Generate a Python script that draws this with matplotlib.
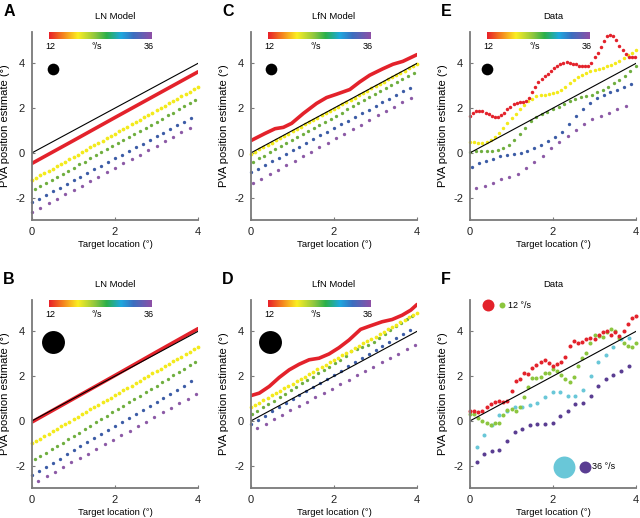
import numpy as np
import matplotlib
matplotlib.use("Agg")
import matplotlib.pyplot as plt
from matplotlib.colors import LinearSegmentedColormap

plt.rcParams['font.family'] = ['Liberation Sans', 'DejaVu Sans']
plt.rcParams['axes.unicode_minus'] = False


def grid(x0, step, n):
    # sample positions along the target axis
    return x0 + step * np.arange(n)


# ---------------- data ----------------
ident_x = [0, 4]
ident_y = [0, 4]

# A : LN model, small stimulus
a_red_x = [0, 1, 2, 3, 4]
a_red_y = [-0.47, 0.55, 1.58, 2.60, 3.62]
a_yel = [-1.22, -1.12, -1.01, -0.91, -0.80, -0.70, -0.60, -0.49, -0.39, -0.28,
         -0.18, -0.08, 0.03, 0.13, 0.24, 0.34, 0.44, 0.55, 0.65, 0.76,
         0.86, 0.96, 1.07, 1.17, 1.28, 1.38, 1.48, 1.59, 1.69, 1.80,
         1.90, 2.00, 2.11, 2.21, 2.32, 2.42, 2.52, 2.63, 2.73, 2.84, 2.94]
a_grn = [-1.62, -1.48, -1.35, -1.21, -1.07, -0.94, -0.80, -0.66, -0.52, -0.39,
         -0.25, -0.11, 0.02, 0.16, 0.30, 0.43, 0.57, 0.71, 0.85, 0.98,
         1.12, 1.26, 1.39, 1.53, 1.67, 1.80, 1.94, 2.08, 2.22, 2.35]
a_blu = [-2.20, -2.04, -1.87, -1.71, -1.55, -1.38, -1.22, -1.06, -0.89, -0.73,
         -0.57, -0.40, -0.24, -0.08, 0.09, 0.25, 0.41, 0.58, 0.74, 0.90,
         1.07, 1.23, 1.39, 1.56]
a_pur = [-2.65, -2.45, -2.25, -2.06, -1.86, -1.66, -1.46, -1.26, -1.07, -0.87,
         -0.67, -0.47, -0.27, -0.08, 0.12, 0.32, 0.52, 0.72, 0.91, 1.11]

# B : LN model, large stimulus
b_red_x = [0, 1, 2, 3, 4]
b_red_y = [-0.05, 0.99, 2.03, 3.08, 4.12]
b_yel = [-1.00, -0.89, -0.79, -0.68, -0.57, -0.46, -0.36, -0.25, -0.14, -0.03,
         0.08, 0.18, 0.29, 0.40, 0.51, 0.61, 0.72, 0.83, 0.94, 1.04,
         1.15, 1.26, 1.37, 1.47, 1.58, 1.69, 1.80, 1.90, 2.01, 2.12,
         2.23, 2.33, 2.44, 2.55, 2.66, 2.76, 2.87, 2.98, 3.09, 3.19, 3.30]
b_grn = [-1.72, -1.57, -1.42, -1.27, -1.12, -0.97, -0.82, -0.67, -0.52, -0.37,
         -0.22, -0.07, 0.08, 0.23, 0.38, 0.53, 0.68, 0.83, 0.98, 1.13,
         1.28, 1.43, 1.58, 1.73, 1.88, 2.03, 2.18, 2.33, 2.48, 2.63]
b_blu = [-2.41, -2.23, -2.05, -1.87, -1.69, -1.50, -1.32, -1.14, -0.96, -0.78,
         -0.60, -0.42, -0.24, -0.05, 0.13, 0.31, 0.49, 0.67, 0.85, 1.03,
         1.21, 1.39, 1.58, 1.76]
b_pur = [-2.68, -2.48, -2.27, -2.07, -1.86, -1.66, -1.46, -1.25, -1.05, -0.84,
         -0.64, -0.44, -0.23, -0.03, 0.18, 0.38, 0.58, 0.79, 0.99, 1.20]

# C : LfN model, small stimulus
c_red_x = [0, 0.34, 0.58, 0.78, 0.98, 1.26, 1.58, 1.82, 2.06, 2.38, 2.62, 2.86,
           3.18, 3.42, 3.66, 4.0]
c_red_y = [0.55, 0.87, 1.08, 1.14, 1.32, 1.76, 2.21, 2.47, 2.62, 2.83, 3.17, 3.47,
           3.76, 3.96, 4.09, 4.39]
c_yel = [-0.04, 0.06, 0.16, 0.26, 0.36, 0.46, 0.56, 0.66, 0.76, 0.86,
         0.97, 1.07, 1.17, 1.27, 1.37, 1.47, 1.57, 1.67, 1.77, 1.87,
         1.97, 2.07, 2.17, 2.27, 2.37, 2.47, 2.57, 2.68, 2.78, 2.88,
         2.98, 3.08, 3.18, 3.28, 3.38, 3.48, 3.58, 3.68, 3.78, 3.88, 3.98]
c_grn = [-0.39, -0.25, -0.12, 0.02, 0.16, 0.29, 0.43, 0.57, 0.71, 0.84,
         0.98, 1.12, 1.25, 1.39, 1.53, 1.66, 1.80, 1.94, 2.08, 2.21,
         2.35, 2.49, 2.62, 2.76, 2.90, 3.03, 3.17, 3.31, 3.45, 3.58]
c_blu = [-0.87, -0.71, -0.54, -0.38, -0.21, -0.05, 0.12, 0.28, 0.45, 0.61,
         0.78, 0.94, 1.10, 1.27, 1.43, 1.60, 1.76, 1.93, 2.09, 2.26,
         2.42, 2.59, 2.75, 2.91]
c_pur = [-1.35, -1.15, -0.95, -0.75, -0.55, -0.35, -0.14, 0.06, 0.26, 0.46,
         0.66, 0.86, 1.06, 1.26, 1.46, 1.67, 1.87, 2.07, 2.27, 2.47]

# D : LfN model, large stimulus
d_red_x = [0, 0.2, 0.44, 0.68, 0.92, 1.16, 1.4, 1.64, 1.88, 2.12, 2.36, 2.64,
           2.88, 3.16, 3.4, 3.64, 3.85, 4.0]
d_red_y = [1.13, 1.24, 1.54, 1.94, 2.28, 2.53, 2.73, 2.80, 2.99, 3.27, 3.61, 4.09,
           4.25, 4.43, 4.53, 4.72, 4.95, 5.20]
d_yel = [0.61, 0.72, 0.82, 0.93, 1.03, 1.14, 1.24, 1.35, 1.45, 1.56,
         1.66, 1.77, 1.88, 1.98, 2.09, 2.19, 2.30, 2.40, 2.51, 2.61,
         2.72, 2.82, 2.93, 3.04, 3.14, 3.25, 3.35, 3.46, 3.56, 3.67,
         3.77, 3.88, 3.98, 4.09, 4.20, 4.30, 4.41, 4.51, 4.62, 4.72, 4.83]
d_grn = [0.31, 0.46, 0.61, 0.76, 0.91, 1.07, 1.22, 1.37, 1.52, 1.67,
         1.82, 1.97, 2.12, 2.27, 2.42, 2.57, 2.72, 2.88, 3.10, 3.22,
         3.30, 3.38, 3.52, 3.70, 3.90, 4.08, 4.23, 4.38, 4.54, 4.69]
d_blu = [-0.13, 0.05, 0.24, 0.42, 0.60, 0.78, 0.97, 1.15, 1.33, 1.52,
         1.70, 1.88, 2.07, 2.25, 2.43, 2.62, 2.80, 2.98, 3.16, 3.35,
         3.53, 3.71, 3.90, 4.08]
d_pur = [-0.31, -0.12, 0.08, 0.27, 0.47, 0.66, 0.86, 1.05, 1.25, 1.44,
         1.64, 1.83, 2.03, 2.22, 2.42, 2.61, 2.81, 3.00, 3.20, 3.39]

# E : data, five speeds
e_red = [1.65, 1.78, 1.87, 1.88, 1.85, 1.79, 1.72, 1.66, 1.62, 1.61,
         1.67, 1.78, 1.94, 2.06, 2.18, 2.25, 2.26, 2.27, 2.32, 2.45,
         2.70, 2.95, 3.16, 3.28, 3.42, 3.54, 3.65, 3.78, 3.90, 3.98,
         4.03, 4.04, 4.02, 3.99, 3.95, 3.90, 3.86, 3.86, 3.90, 4.02,
         4.28, 4.45, 4.75, 5.00, 5.22, 5.27, 5.22, 5.05, 4.78, 4.58,
         4.40, 4.30, 4.27, 4.27]
e_yel = [0.50, 0.47, 0.45, 0.46, 0.50, 0.58, 0.72, 0.90, 1.12, 1.33,
         1.54, 1.75, 1.95, 2.15, 2.30, 2.42, 2.52, 2.57, 2.60, 2.62,
         2.66, 2.72, 2.82, 2.95, 3.10, 3.25, 3.38, 3.50, 3.58, 3.64,
         3.70, 3.75, 3.80, 3.86, 3.92, 4.00, 4.10, 4.22, 4.36, 4.48, 4.58]
e_grn = [0.06, 0.08, 0.08, 0.08, 0.10, 0.13, 0.20, 0.36, 0.58, 0.85,
         1.12, 1.42, 1.60, 1.72, 1.82, 1.95, 2.05, 2.20, 2.32, 2.42,
         2.48, 2.53, 2.60, 2.70, 2.80, 2.95, 3.10, 3.25, 3.45, 3.68, 3.90]
e_blu = [-0.61, -0.46, -0.35, -0.26, -0.16, -0.09, -0.04, -0.01, 0.07, 0.22,
         0.37, 0.52, 0.70, 0.95, 1.30, 1.65, 1.98, 2.25, 2.45, 2.58,
         2.70, 2.82, 2.93, 3.08]
e_pur = [-1.57, -1.46, -1.33, -1.18, -1.06, -0.95, -0.67, -0.42, -0.12, 0.20,
         0.50, 0.76, 1.02, 1.28, 1.50, 1.66, 1.80, 1.94, 2.08]

# F : data, small/large stimulus at 12 and 36 deg/s
f_red = [0.42, 0.42, 0.40, 0.42, 0.62, 0.75, 0.85, 0.90, 0.85, 0.87,
         1.35, 1.78, 1.85, 2.12, 2.08, 2.35, 2.50, 2.65, 2.70, 2.60,
         2.45, 2.55, 2.62, 2.85, 3.35, 3.55, 3.50, 3.52, 3.65, 3.70,
         3.65, 3.85, 3.95, 4.00, 3.85, 3.95, 3.80, 4.00, 4.35, 4.60, 4.70]
f_grn = [0.30, 0.30, 0.15, 0.00, -0.10, -0.20, -0.10, -0.10, 0.25, 0.48,
         0.52, 0.45, 0.62, 1.05, 1.50, 1.90, 1.92, 1.95, 2.15, 2.15,
         2.30, 2.25, 2.05, 1.85, 1.75, 1.95, 2.45, 2.80, 3.05, 3.50,
         3.85, 3.80, 3.75, 3.95, 4.10, 4.00, 3.70, 3.50, 3.35, 3.30, 3.50]
f_cyn = [-1.15, -0.65, -0.20, 0.25, 0.45, 0.60, 0.62, 0.70, 0.80, 1.05,
         1.30, 1.28, 1.12, 1.12, 1.40, 2.00, 2.65, 2.95, 3.30, 3.65, 3.70]
f_pur = [-1.85, -1.50, -1.35, -1.28, -0.90, -0.50, -0.35, -0.20, -0.15, -0.15,
         -0.10, 0.20, 0.45, 0.75, 0.80, 1.10, 1.55, 1.85, 2.05, 2.25, 2.45]

# ---------------- style ----------------
RED = '#e3222b'
YEL = '#f3ea1b'
GRN = '#6fae3f'
BLU = '#3c5ca6'
PUR = '#8c5aa6'
F_GRN = '#8cc63f'
F_CYN = '#69c7d8'
F_PUR = '#5a3d92'
AXC = '#7a7a7a'

speed_cmap = LinearSegmentedColormap.from_list(
    'speed', [(0.0, '#e8202a'), (0.14, '#f5861f'), (0.28, '#fbee23'),
              (0.45, '#8cc63f'), (0.56, '#2bb04a'), (0.70, '#1ea8df'),
              (0.82, '#3b6fc0'), (1.0, '#8e4fa6')])

fig = plt.figure(figsize=(6.4, 5.18), dpi=100)

W = 0.2594
H = 0.3629
col_left = [0.05, 0.3922, 0.7344]
row_bottom = [0.5753, 0.0579]


def make_axes(col, row, title, letter):
    ax = fig.add_axes([col_left[col], row_bottom[row], W, H])
    ax.set_xlim(0, 4)
    ax.set_ylim(-3, 5.4)
    ax.set_xticks([0, 2, 4])
    ax.set_yticks([-2, 0, 2, 4])
    for s in ('top', 'right'):
        ax.spines[s].set_visible(False)
    for s in ('left', 'bottom'):
        ax.spines[s].set_color(AXC)
        ax.spines[s].set_linewidth(1.3)
    ax.tick_params(direction='in', length=2, width=0.8, color=AXC,
                   labelsize=8, pad=5, labelcolor='#222222')
    ax.set_xlabel('Target location (°)', fontsize=6.8)
    ax.set_ylabel('PVA position estimate (°)', fontsize=8)
    ax.xaxis.set_label_coords(0.5, -0.105)
    ax.yaxis.set_label_coords(-0.13, 0.5)
    ax.text(0.5, 1.08, title, transform=ax.transAxes, ha='center',
            va='center', fontsize=6.8)
    fx = col_left[col] - 0.045
    fy = row_bottom[row] + H + 0.04
    fig.text(fx, fy, letter, fontsize=11.5, fontweight='bold', ha='left',
             va='center')
    return ax


def speed_bar(ax):
    cax = ax.inset_axes([0.1, 0.962, 0.615, 0.036])
    cax.imshow(np.linspace(0, 1, 256)[None, :], aspect='auto', cmap=speed_cmap)
    cax.set_axis_off()
    for xx, t in ((0.108, '12'), (0.39, '°/s'), (0.705, '36')):
        ax.text(xx, 0.925, t, transform=ax.transAxes, ha='center',
                va='center', fontsize=6.5)


def dots(ax, x, y, c, ms=2.4):
    ax.plot(x, y, 'o', color=c, ms=ms, mec='none', clip_on=False)


def model_panel(ax, red_x, red_y, yel, grn, blu, pur, starts, blob):
    speed_bar(ax)
    ax.plot(blob[0], blob[1], 'o', color='black', ms=blob[2], mec='none')
    dots(ax, grid(starts[3], 0.2, len(pur)), pur, PUR)
    dots(ax, grid(starts[2], 0.1667, len(blu)), blu, BLU)
    dots(ax, grid(starts[1], 0.1333, len(grn)), grn, GRN)
    dots(ax, grid(starts[0], 0.1, len(yel)), yel, YEL, ms=2.7)
    ax.plot(red_x, red_y, '-', color=RED, lw=2.6, solid_capstyle='round')
    ax.plot(ident_x, ident_y, '-', color='black', lw=0.8)


axA = make_axes(0, 0, 'LN Model', 'A')
model_panel(axA, a_red_x, a_red_y, a_yel, a_grn, a_blu, a_pur,
            (0.0, 0.07, 0.0, 0.0), (0.5, 3.75, 8.4))

axB = make_axes(0, 1, 'LN Model', 'B')
model_panel(axB, b_red_x, b_red_y, b_yel, b_grn, b_blu, b_pur,
            (0.0, 0.07, 0.0, 0.15), (0.5, 3.51, 16.5))

axC = make_axes(1, 0, 'LfN Model', 'C')
model_panel(axC, c_red_x, c_red_y, c_yel, c_grn, c_blu, c_pur,
            (0.0, 0.05, 0.0, 0.05), (0.48, 3.76, 8.4))

axD = make_axes(1, 1, 'LfN Model', 'D')
model_panel(axD, d_red_x, d_red_y, d_yel, d_grn, d_blu, d_pur,
            (0.0, 0.02, 0.0, 0.15), (0.46, 3.54, 16.5))

axE = make_axes(2, 0, 'Data', 'E')
speed_bar(axE)
axE.plot(0.42, 3.76, 'o', color='black', ms=8.4, mec='none')
dots(axE, grid(0.15, 0.2, len(e_pur)), e_pur, PUR)
dots(axE, grid(0.05, 0.1667, len(e_blu)), e_blu, BLU)
dots(axE, grid(0.0, 0.1333, len(e_grn)), e_grn, GRN)
dots(axE, grid(0.0, 0.1, len(e_yel)), e_yel, YEL, ms=2.5)
dots(axE, grid(0.0, 0.075, len(e_red)), e_red, RED, ms=2.5)
axE.plot(ident_x, ident_y, '-', color='black', lw=0.8)

axF = make_axes(2, 1, 'Data', 'F')
dots(axF, grid(0.16, 0.183, len(f_pur)), f_pur, F_PUR, ms=2.9)
dots(axF, grid(0.16, 0.183, len(f_cyn)), f_cyn, F_CYN, ms=2.9)
dots(axF, grid(0.0, 0.1, len(f_grn)), f_grn, F_GRN, ms=2.9)
dots(axF, grid(0.0, 0.1, len(f_red)), f_red, RED, ms=2.9)
axF.plot(ident_x, ident_y, '-', color='black', lw=0.8)
# legend blobs
axF.plot(0.44, 5.17, 'o', color=RED, ms=8.6, mec='none', clip_on=False)
axF.plot(0.76, 5.17, 'o', color=F_GRN, ms=4.3, mec='none', clip_on=False)
axF.text(0.92, 5.17, '12 °/s', fontsize=6.5, va='center', ha='left')
axF.plot(2.26, -2.06, 'o', color=F_CYN, ms=15.8, mec='none')
axF.plot(2.78, -2.06, 'o', color=F_PUR, ms=8.6, mec='none')
axF.text(2.95, -2.06, '36 °/s', fontsize=6.5, va='center', ha='left')

fig.savefig('out.png', dpi=100)
